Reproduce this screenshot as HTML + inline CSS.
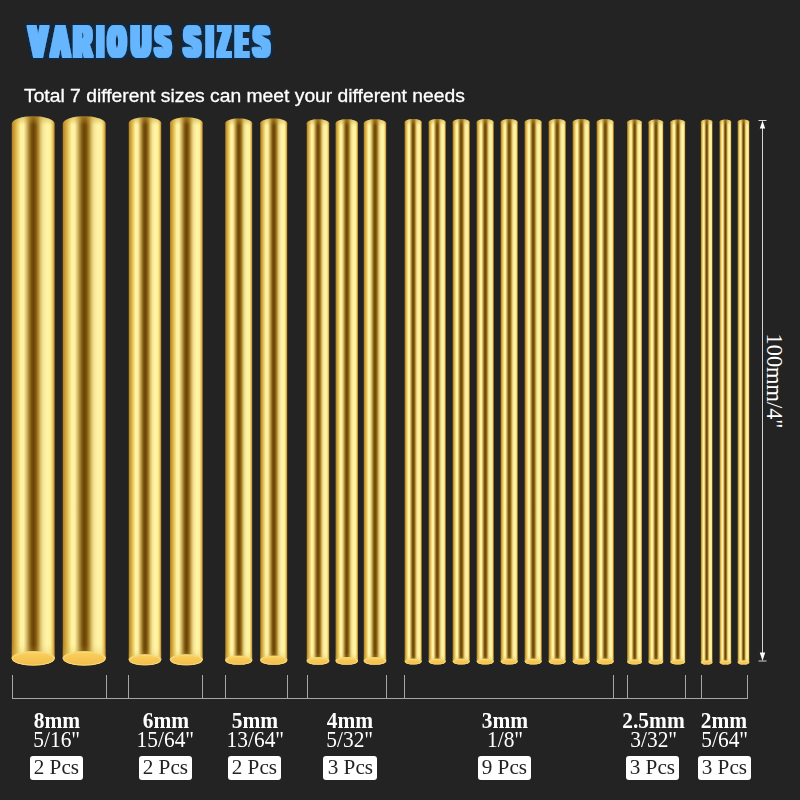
<!DOCTYPE html>
<html><head><meta charset="utf-8"><title>Various Sizes</title>
<style>
html,body{margin:0;padding:0;}
body{width:800px;height:800px;background:#232323;position:relative;overflow:hidden;font-family:"Liberation Sans",sans-serif;}
.sub{-webkit-text-stroke:0.3px #fff;position:absolute;left:23.9px;top:85.9px;font:18px/20px "Liberation Sans",sans-serif;color:#fff;white-space:nowrap;transform-origin:0 50%;transform:scaleX(1.071);}
.lab{position:absolute;width:120px;text-align:center;color:#fff;font-family:"Liberation Serif",serif;white-space:nowrap;}
.lab span{display:inline-block;}
.lab.a{top:708.4px;font-weight:bold;font-size:23px;line-height:26px;height:26px;}
.lab.a span{transform:scaleX(0.932);}
.lab.b{top:727.2px;font-size:22.6px;line-height:26px;height:26px;}
.lab.b span{transform:scaleX(0.947);}
.pcs{position:absolute;top:755.9px;width:53.2px;height:24.4px;background:#fff;border-radius:3px;color:#222;font:20px/23.2px "Liberation Serif",serif;text-align:center;white-space:nowrap;}
.pcs span{display:inline-block;transform:scaleX(1.06);}
.len{position:absolute;left:774.2px;top:381.3px;width:0;height:0;}
.len span{position:absolute;white-space:nowrap;color:#fff;font:22.4px/22px "Liberation Serif",serif;transform:translate(-50%,-50%) rotate(90deg);}
</style></head><body>
<svg width="800" height="800" viewBox="0 0 800 800" style="position:absolute;left:0;top:0">
<defs>
<linearGradient id="g" x1="0" y1="0" x2="1" y2="0">
<stop offset="0" stop-color="#a87a22"/>
<stop offset="0.02" stop-color="#ba8a28"/>
<stop offset="0.065" stop-color="#cfa23a"/>
<stop offset="0.14" stop-color="#ecce66"/>
<stop offset="0.21" stop-color="#fff4a4"/>
<stop offset="0.28" stop-color="#fef2a2"/>
<stop offset="0.34" stop-color="#dcc070"/>
<stop offset="0.40" stop-color="#a98634"/>
<stop offset="0.45" stop-color="#7d5812"/>
<stop offset="0.50" stop-color="#6a4406"/>
<stop offset="0.55" stop-color="#7a520c"/>
<stop offset="0.61" stop-color="#a8822a"/>
<stop offset="0.67" stop-color="#dcc26c"/>
<stop offset="0.73" stop-color="#f7e698"/>
<stop offset="0.82" stop-color="#fff6a6"/>
<stop offset="0.90" stop-color="#fff09a"/>
<stop offset="0.95" stop-color="#eac660"/>
<stop offset="0.985" stop-color="#c4943a"/>
<stop offset="1" stop-color="#a0721e"/>
</linearGradient>
<linearGradient id="v" gradientUnits="userSpaceOnUse" x1="0" y1="116" x2="0" y2="666">
<stop offset="0" stop-color="#c49a32" stop-opacity="0.55"/>
<stop offset="0.03" stop-color="#c89e36" stop-opacity="0.48"/>
<stop offset="0.10" stop-color="#caa23c" stop-opacity="0"/>
<stop offset="0.895" stop-color="#d4b048" stop-opacity="0"/>
<stop offset="0.96" stop-color="#d4b048" stop-opacity="0.5"/>
<stop offset="1" stop-color="#d8b44c" stop-opacity="0.55"/>
</linearGradient>
<linearGradient id="e" x1="0" y1="0" x2="0" y2="1">
<stop offset="0" stop-color="#fdd05c"/>
<stop offset="1" stop-color="#efbc4c"/>
</linearGradient>
</defs>
<path d="M11.75 124.04 A21.50 7.74 0 0 1 54.75 124.04 L54.75 658.61 A21.50 6.99 0 0 1 11.75 658.61 Z" fill="url(#g)"/>
<path d="M62.75 124.04 A21.50 7.74 0 0 1 105.75 124.04 L105.75 658.61 A21.50 6.99 0 0 1 62.75 658.61 Z" fill="url(#g)"/>
<path d="M128.75 123.15 A16.25 5.85 0 0 1 161.25 123.15 L161.25 660.02 A16.25 5.28 0 0 1 128.75 660.02 Z" fill="url(#g)"/>
<path d="M169.95 123.20 A16.40 5.90 0 0 1 202.75 123.20 L202.75 659.97 A16.40 5.33 0 0 1 169.95 659.97 Z" fill="url(#g)"/>
<path d="M225.25 123.36 A13.50 4.86 0 0 1 252.25 123.36 L252.25 660.41 A13.50 4.39 0 0 1 225.25 660.41 Z" fill="url(#g)"/>
<path d="M260.25 123.36 A13.50 4.86 0 0 1 287.25 123.36 L287.25 660.41 A13.50 4.39 0 0 1 260.25 660.41 Z" fill="url(#g)"/>
<path d="M306.75 123.25 A11.25 4.05 0 0 1 329.25 123.25 L329.25 661.14 A11.25 3.66 0 0 1 306.75 661.14 Z" fill="url(#g)"/>
<path d="M335.55 123.23 A11.20 4.03 0 0 1 357.95 123.23 L357.95 661.16 A11.20 3.64 0 0 1 335.55 661.16 Z" fill="url(#g)"/>
<path d="M363.75 123.25 A11.25 4.05 0 0 1 386.25 123.25 L386.25 661.14 A11.25 3.66 0 0 1 363.75 661.14 Z" fill="url(#g)"/>
<path d="M404.65 122.08 A8.55 3.08 0 0 1 421.75 122.08 L421.75 661.72 A8.55 2.78 0 0 1 404.65 661.72 Z" fill="url(#g)"/>
<path d="M428.65 122.08 A8.55 3.08 0 0 1 445.75 122.08 L445.75 661.72 A8.55 2.78 0 0 1 428.65 661.72 Z" fill="url(#g)"/>
<path d="M452.65 122.08 A8.55 3.08 0 0 1 469.75 122.08 L469.75 661.72 A8.55 2.78 0 0 1 452.65 661.72 Z" fill="url(#g)"/>
<path d="M476.65 122.08 A8.55 3.08 0 0 1 493.75 122.08 L493.75 661.72 A8.55 2.78 0 0 1 476.65 661.72 Z" fill="url(#g)"/>
<path d="M500.65 122.08 A8.55 3.08 0 0 1 517.75 122.08 L517.75 661.72 A8.55 2.78 0 0 1 500.65 661.72 Z" fill="url(#g)"/>
<path d="M524.65 122.08 A8.55 3.08 0 0 1 541.75 122.08 L541.75 661.72 A8.55 2.78 0 0 1 524.65 661.72 Z" fill="url(#g)"/>
<path d="M548.65 122.08 A8.55 3.08 0 0 1 565.75 122.08 L565.75 661.72 A8.55 2.78 0 0 1 548.65 661.72 Z" fill="url(#g)"/>
<path d="M572.65 122.08 A8.55 3.08 0 0 1 589.75 122.08 L589.75 661.72 A8.55 2.78 0 0 1 572.65 661.72 Z" fill="url(#g)"/>
<path d="M596.65 122.08 A8.55 3.08 0 0 1 613.75 122.08 L613.75 661.72 A8.55 2.78 0 0 1 596.65 661.72 Z" fill="url(#g)"/>
<path d="M627.15 122.26 A7.40 2.66 0 0 1 641.95 122.26 L641.95 662.10 A7.40 2.40 0 0 1 627.15 662.10 Z" fill="url(#g)"/>
<path d="M648.45 122.26 A7.40 2.66 0 0 1 663.25 122.26 L663.25 662.10 A7.40 2.40 0 0 1 648.45 662.10 Z" fill="url(#g)"/>
<path d="M670.35 122.26 A7.40 2.66 0 0 1 685.15 122.26 L685.15 662.10 A7.40 2.40 0 0 1 670.35 662.10 Z" fill="url(#g)"/>
<path d="M700.85 121.71 A5.85 2.11 0 0 1 712.55 121.71 L712.55 662.60 A5.85 1.90 0 0 1 700.85 662.60 Z" fill="url(#g)"/>
<path d="M719.55 121.71 A5.85 2.11 0 0 1 731.25 121.71 L731.25 662.60 A5.85 1.90 0 0 1 719.55 662.60 Z" fill="url(#g)"/>
<path d="M737.65 121.71 A5.85 2.11 0 0 1 749.35 121.71 L749.35 662.60 A5.85 1.90 0 0 1 737.65 662.60 Z" fill="url(#g)"/>
<linearGradient id="v0" gradientUnits="userSpaceOnUse" x1="0" y1="116.3" x2="0" y2="665.5999999999999"><stop offset="0" stop-color="#c49a32" stop-opacity="0.55"/><stop offset="0.0064" stop-color="#c89e36" stop-opacity="0.35"/><stop offset="0.0160" stop-color="#caa23c" stop-opacity="0"/><stop offset="0.9615" stop-color="#d4b048" stop-opacity="0"/><stop offset="0.9746" stop-color="#d6b24a" stop-opacity="0.2"/><stop offset="1" stop-color="#d8b44c" stop-opacity="0.3"/></linearGradient>
<path d="M11.75 124.04 A21.50 7.74 0 0 1 54.75 124.04 L54.75 658.61 A21.50 6.99 0 0 1 11.75 658.61 Z" fill="url(#v0)"/>
<linearGradient id="v1" gradientUnits="userSpaceOnUse" x1="0" y1="116.3" x2="0" y2="665.5999999999999"><stop offset="0" stop-color="#c49a32" stop-opacity="0.55"/><stop offset="0.0064" stop-color="#c89e36" stop-opacity="0.35"/><stop offset="0.0160" stop-color="#caa23c" stop-opacity="0"/><stop offset="0.9615" stop-color="#d4b048" stop-opacity="0"/><stop offset="0.9746" stop-color="#d6b24a" stop-opacity="0.2"/><stop offset="1" stop-color="#d8b44c" stop-opacity="0.3"/></linearGradient>
<path d="M62.75 124.04 A21.50 7.74 0 0 1 105.75 124.04 L105.75 658.61 A21.50 6.99 0 0 1 62.75 658.61 Z" fill="url(#v1)"/>
<linearGradient id="v2" gradientUnits="userSpaceOnUse" x1="0" y1="117.3" x2="0" y2="665.3"><stop offset="0" stop-color="#c49a32" stop-opacity="0.55"/><stop offset="0.0057" stop-color="#c89e36" stop-opacity="0.35"/><stop offset="0.0141" stop-color="#caa23c" stop-opacity="0"/><stop offset="0.9700" stop-color="#d4b048" stop-opacity="0"/><stop offset="0.9807" stop-color="#d6b24a" stop-opacity="0.2"/><stop offset="1" stop-color="#d8b44c" stop-opacity="0.3"/></linearGradient>
<path d="M128.75 123.15 A16.25 5.85 0 0 1 161.25 123.15 L161.25 660.02 A16.25 5.28 0 0 1 128.75 660.02 Z" fill="url(#v2)"/>
<linearGradient id="v3" gradientUnits="userSpaceOnUse" x1="0" y1="117.3" x2="0" y2="665.3"><stop offset="0" stop-color="#c49a32" stop-opacity="0.55"/><stop offset="0.0057" stop-color="#c89e36" stop-opacity="0.35"/><stop offset="0.0142" stop-color="#caa23c" stop-opacity="0"/><stop offset="0.9697" stop-color="#d4b048" stop-opacity="0"/><stop offset="0.9805" stop-color="#d6b24a" stop-opacity="0.2"/><stop offset="1" stop-color="#d8b44c" stop-opacity="0.3"/></linearGradient>
<path d="M169.95 123.20 A16.40 5.90 0 0 1 202.75 123.20 L202.75 659.97 A16.40 5.33 0 0 1 169.95 659.97 Z" fill="url(#v3)"/>
<linearGradient id="v4" gradientUnits="userSpaceOnUse" x1="0" y1="118.5" x2="0" y2="664.8"><stop offset="0" stop-color="#c49a32" stop-opacity="0.55"/><stop offset="0.0053" stop-color="#c89e36" stop-opacity="0.35"/><stop offset="0.0132" stop-color="#caa23c" stop-opacity="0"/><stop offset="0.9743" stop-color="#d4b048" stop-opacity="0"/><stop offset="0.9839" stop-color="#d6b24a" stop-opacity="0.2"/><stop offset="1" stop-color="#d8b44c" stop-opacity="0.3"/></linearGradient>
<path d="M225.25 123.36 A13.50 4.86 0 0 1 252.25 123.36 L252.25 660.41 A13.50 4.39 0 0 1 225.25 660.41 Z" fill="url(#v4)"/>
<linearGradient id="v5" gradientUnits="userSpaceOnUse" x1="0" y1="118.5" x2="0" y2="664.8"><stop offset="0" stop-color="#c49a32" stop-opacity="0.55"/><stop offset="0.0053" stop-color="#c89e36" stop-opacity="0.35"/><stop offset="0.0132" stop-color="#caa23c" stop-opacity="0"/><stop offset="0.9743" stop-color="#d4b048" stop-opacity="0"/><stop offset="0.9839" stop-color="#d6b24a" stop-opacity="0.2"/><stop offset="1" stop-color="#d8b44c" stop-opacity="0.3"/></linearGradient>
<path d="M260.25 123.36 A13.50 4.86 0 0 1 287.25 123.36 L287.25 660.41 A13.50 4.39 0 0 1 260.25 660.41 Z" fill="url(#v5)"/>
<linearGradient id="v6" gradientUnits="userSpaceOnUse" x1="0" y1="119.2" x2="0" y2="664.8"><stop offset="0" stop-color="#c49a32" stop-opacity="0.55"/><stop offset="0.0049" stop-color="#c89e36" stop-opacity="0.35"/><stop offset="0.0124" stop-color="#caa23c" stop-opacity="0"/><stop offset="0.9780" stop-color="#d4b048" stop-opacity="0"/><stop offset="0.9866" stop-color="#d6b24a" stop-opacity="0.2"/><stop offset="1" stop-color="#d8b44c" stop-opacity="0.3"/></linearGradient>
<path d="M306.75 123.25 A11.25 4.05 0 0 1 329.25 123.25 L329.25 661.14 A11.25 3.66 0 0 1 306.75 661.14 Z" fill="url(#v6)"/>
<linearGradient id="v7" gradientUnits="userSpaceOnUse" x1="0" y1="119.2" x2="0" y2="664.8"><stop offset="0" stop-color="#c49a32" stop-opacity="0.55"/><stop offset="0.0049" stop-color="#c89e36" stop-opacity="0.35"/><stop offset="0.0124" stop-color="#caa23c" stop-opacity="0"/><stop offset="0.9781" stop-color="#d4b048" stop-opacity="0"/><stop offset="0.9867" stop-color="#d6b24a" stop-opacity="0.2"/><stop offset="1" stop-color="#d8b44c" stop-opacity="0.3"/></linearGradient>
<path d="M335.55 123.23 A11.20 4.03 0 0 1 357.95 123.23 L357.95 661.16 A11.20 3.64 0 0 1 335.55 661.16 Z" fill="url(#v7)"/>
<linearGradient id="v8" gradientUnits="userSpaceOnUse" x1="0" y1="119.2" x2="0" y2="664.8"><stop offset="0" stop-color="#c49a32" stop-opacity="0.55"/><stop offset="0.0049" stop-color="#c89e36" stop-opacity="0.35"/><stop offset="0.0124" stop-color="#caa23c" stop-opacity="0"/><stop offset="0.9780" stop-color="#d4b048" stop-opacity="0"/><stop offset="0.9866" stop-color="#d6b24a" stop-opacity="0.2"/><stop offset="1" stop-color="#d8b44c" stop-opacity="0.3"/></linearGradient>
<path d="M363.75 123.25 A11.25 4.05 0 0 1 386.25 123.25 L386.25 661.14 A11.25 3.66 0 0 1 363.75 661.14 Z" fill="url(#v8)"/>
<linearGradient id="v9" gradientUnits="userSpaceOnUse" x1="0" y1="119" x2="0" y2="664.5"><stop offset="0" stop-color="#c49a32" stop-opacity="0.55"/><stop offset="0.0046" stop-color="#c89e36" stop-opacity="0.35"/><stop offset="0.0114" stop-color="#caa23c" stop-opacity="0"/><stop offset="0.9824" stop-color="#d4b048" stop-opacity="0"/><stop offset="0.9898" stop-color="#d6b24a" stop-opacity="0.2"/><stop offset="1" stop-color="#d8b44c" stop-opacity="0.3"/></linearGradient>
<path d="M404.65 122.08 A8.55 3.08 0 0 1 421.75 122.08 L421.75 661.72 A8.55 2.78 0 0 1 404.65 661.72 Z" fill="url(#v9)"/>
<linearGradient id="v10" gradientUnits="userSpaceOnUse" x1="0" y1="119" x2="0" y2="664.5"><stop offset="0" stop-color="#c49a32" stop-opacity="0.55"/><stop offset="0.0046" stop-color="#c89e36" stop-opacity="0.35"/><stop offset="0.0114" stop-color="#caa23c" stop-opacity="0"/><stop offset="0.9824" stop-color="#d4b048" stop-opacity="0"/><stop offset="0.9898" stop-color="#d6b24a" stop-opacity="0.2"/><stop offset="1" stop-color="#d8b44c" stop-opacity="0.3"/></linearGradient>
<path d="M428.65 122.08 A8.55 3.08 0 0 1 445.75 122.08 L445.75 661.72 A8.55 2.78 0 0 1 428.65 661.72 Z" fill="url(#v10)"/>
<linearGradient id="v11" gradientUnits="userSpaceOnUse" x1="0" y1="119" x2="0" y2="664.5"><stop offset="0" stop-color="#c49a32" stop-opacity="0.55"/><stop offset="0.0046" stop-color="#c89e36" stop-opacity="0.35"/><stop offset="0.0114" stop-color="#caa23c" stop-opacity="0"/><stop offset="0.9824" stop-color="#d4b048" stop-opacity="0"/><stop offset="0.9898" stop-color="#d6b24a" stop-opacity="0.2"/><stop offset="1" stop-color="#d8b44c" stop-opacity="0.3"/></linearGradient>
<path d="M452.65 122.08 A8.55 3.08 0 0 1 469.75 122.08 L469.75 661.72 A8.55 2.78 0 0 1 452.65 661.72 Z" fill="url(#v11)"/>
<linearGradient id="v12" gradientUnits="userSpaceOnUse" x1="0" y1="119" x2="0" y2="664.5"><stop offset="0" stop-color="#c49a32" stop-opacity="0.55"/><stop offset="0.0046" stop-color="#c89e36" stop-opacity="0.35"/><stop offset="0.0114" stop-color="#caa23c" stop-opacity="0"/><stop offset="0.9824" stop-color="#d4b048" stop-opacity="0"/><stop offset="0.9898" stop-color="#d6b24a" stop-opacity="0.2"/><stop offset="1" stop-color="#d8b44c" stop-opacity="0.3"/></linearGradient>
<path d="M476.65 122.08 A8.55 3.08 0 0 1 493.75 122.08 L493.75 661.72 A8.55 2.78 0 0 1 476.65 661.72 Z" fill="url(#v12)"/>
<linearGradient id="v13" gradientUnits="userSpaceOnUse" x1="0" y1="119" x2="0" y2="664.5"><stop offset="0" stop-color="#c49a32" stop-opacity="0.55"/><stop offset="0.0046" stop-color="#c89e36" stop-opacity="0.35"/><stop offset="0.0114" stop-color="#caa23c" stop-opacity="0"/><stop offset="0.9824" stop-color="#d4b048" stop-opacity="0"/><stop offset="0.9898" stop-color="#d6b24a" stop-opacity="0.2"/><stop offset="1" stop-color="#d8b44c" stop-opacity="0.3"/></linearGradient>
<path d="M500.65 122.08 A8.55 3.08 0 0 1 517.75 122.08 L517.75 661.72 A8.55 2.78 0 0 1 500.65 661.72 Z" fill="url(#v13)"/>
<linearGradient id="v14" gradientUnits="userSpaceOnUse" x1="0" y1="119" x2="0" y2="664.5"><stop offset="0" stop-color="#c49a32" stop-opacity="0.55"/><stop offset="0.0046" stop-color="#c89e36" stop-opacity="0.35"/><stop offset="0.0114" stop-color="#caa23c" stop-opacity="0"/><stop offset="0.9824" stop-color="#d4b048" stop-opacity="0"/><stop offset="0.9898" stop-color="#d6b24a" stop-opacity="0.2"/><stop offset="1" stop-color="#d8b44c" stop-opacity="0.3"/></linearGradient>
<path d="M524.65 122.08 A8.55 3.08 0 0 1 541.75 122.08 L541.75 661.72 A8.55 2.78 0 0 1 524.65 661.72 Z" fill="url(#v14)"/>
<linearGradient id="v15" gradientUnits="userSpaceOnUse" x1="0" y1="119" x2="0" y2="664.5"><stop offset="0" stop-color="#c49a32" stop-opacity="0.55"/><stop offset="0.0046" stop-color="#c89e36" stop-opacity="0.35"/><stop offset="0.0114" stop-color="#caa23c" stop-opacity="0"/><stop offset="0.9824" stop-color="#d4b048" stop-opacity="0"/><stop offset="0.9898" stop-color="#d6b24a" stop-opacity="0.2"/><stop offset="1" stop-color="#d8b44c" stop-opacity="0.3"/></linearGradient>
<path d="M548.65 122.08 A8.55 3.08 0 0 1 565.75 122.08 L565.75 661.72 A8.55 2.78 0 0 1 548.65 661.72 Z" fill="url(#v15)"/>
<linearGradient id="v16" gradientUnits="userSpaceOnUse" x1="0" y1="119" x2="0" y2="664.5"><stop offset="0" stop-color="#c49a32" stop-opacity="0.55"/><stop offset="0.0046" stop-color="#c89e36" stop-opacity="0.35"/><stop offset="0.0114" stop-color="#caa23c" stop-opacity="0"/><stop offset="0.9824" stop-color="#d4b048" stop-opacity="0"/><stop offset="0.9898" stop-color="#d6b24a" stop-opacity="0.2"/><stop offset="1" stop-color="#d8b44c" stop-opacity="0.3"/></linearGradient>
<path d="M572.65 122.08 A8.55 3.08 0 0 1 589.75 122.08 L589.75 661.72 A8.55 2.78 0 0 1 572.65 661.72 Z" fill="url(#v16)"/>
<linearGradient id="v17" gradientUnits="userSpaceOnUse" x1="0" y1="119" x2="0" y2="664.5"><stop offset="0" stop-color="#c49a32" stop-opacity="0.55"/><stop offset="0.0046" stop-color="#c89e36" stop-opacity="0.35"/><stop offset="0.0114" stop-color="#caa23c" stop-opacity="0"/><stop offset="0.9824" stop-color="#d4b048" stop-opacity="0"/><stop offset="0.9898" stop-color="#d6b24a" stop-opacity="0.2"/><stop offset="1" stop-color="#d8b44c" stop-opacity="0.3"/></linearGradient>
<path d="M596.65 122.08 A8.55 3.08 0 0 1 613.75 122.08 L613.75 661.72 A8.55 2.78 0 0 1 596.65 661.72 Z" fill="url(#v17)"/>
<linearGradient id="v18" gradientUnits="userSpaceOnUse" x1="0" y1="119.6" x2="0" y2="664.5"><stop offset="0" stop-color="#c49a32" stop-opacity="0.55"/><stop offset="0.0044" stop-color="#c89e36" stop-opacity="0.35"/><stop offset="0.0110" stop-color="#caa23c" stop-opacity="0"/><stop offset="0.9842" stop-color="#d4b048" stop-opacity="0"/><stop offset="0.9912" stop-color="#d6b24a" stop-opacity="0.2"/><stop offset="1" stop-color="#d8b44c" stop-opacity="0.3"/></linearGradient>
<path d="M627.15 122.26 A7.40 2.66 0 0 1 641.95 122.26 L641.95 662.10 A7.40 2.40 0 0 1 627.15 662.10 Z" fill="url(#v18)"/>
<linearGradient id="v19" gradientUnits="userSpaceOnUse" x1="0" y1="119.6" x2="0" y2="664.5"><stop offset="0" stop-color="#c49a32" stop-opacity="0.55"/><stop offset="0.0044" stop-color="#c89e36" stop-opacity="0.35"/><stop offset="0.0110" stop-color="#caa23c" stop-opacity="0"/><stop offset="0.9842" stop-color="#d4b048" stop-opacity="0"/><stop offset="0.9912" stop-color="#d6b24a" stop-opacity="0.2"/><stop offset="1" stop-color="#d8b44c" stop-opacity="0.3"/></linearGradient>
<path d="M648.45 122.26 A7.40 2.66 0 0 1 663.25 122.26 L663.25 662.10 A7.40 2.40 0 0 1 648.45 662.10 Z" fill="url(#v19)"/>
<linearGradient id="v20" gradientUnits="userSpaceOnUse" x1="0" y1="119.6" x2="0" y2="664.5"><stop offset="0" stop-color="#c49a32" stop-opacity="0.55"/><stop offset="0.0044" stop-color="#c89e36" stop-opacity="0.35"/><stop offset="0.0110" stop-color="#caa23c" stop-opacity="0"/><stop offset="0.9842" stop-color="#d4b048" stop-opacity="0"/><stop offset="0.9912" stop-color="#d6b24a" stop-opacity="0.2"/><stop offset="1" stop-color="#d8b44c" stop-opacity="0.3"/></linearGradient>
<path d="M670.35 122.26 A7.40 2.66 0 0 1 685.15 122.26 L685.15 662.10 A7.40 2.40 0 0 1 670.35 662.10 Z" fill="url(#v20)"/>
<linearGradient id="v21" gradientUnits="userSpaceOnUse" x1="0" y1="119.6" x2="0" y2="664.5"><stop offset="0" stop-color="#c49a32" stop-opacity="0.55"/><stop offset="0.0042" stop-color="#c89e36" stop-opacity="0.35"/><stop offset="0.0104" stop-color="#caa23c" stop-opacity="0"/><stop offset="0.9868" stop-color="#d4b048" stop-opacity="0"/><stop offset="0.9930" stop-color="#d6b24a" stop-opacity="0.2"/><stop offset="1" stop-color="#d8b44c" stop-opacity="0.3"/></linearGradient>
<path d="M700.85 121.71 A5.85 2.11 0 0 1 712.55 121.71 L712.55 662.60 A5.85 1.90 0 0 1 700.85 662.60 Z" fill="url(#v21)"/>
<linearGradient id="v22" gradientUnits="userSpaceOnUse" x1="0" y1="119.6" x2="0" y2="664.5"><stop offset="0" stop-color="#c49a32" stop-opacity="0.55"/><stop offset="0.0042" stop-color="#c89e36" stop-opacity="0.35"/><stop offset="0.0104" stop-color="#caa23c" stop-opacity="0"/><stop offset="0.9868" stop-color="#d4b048" stop-opacity="0"/><stop offset="0.9930" stop-color="#d6b24a" stop-opacity="0.2"/><stop offset="1" stop-color="#d8b44c" stop-opacity="0.3"/></linearGradient>
<path d="M719.55 121.71 A5.85 2.11 0 0 1 731.25 121.71 L731.25 662.60 A5.85 1.90 0 0 1 719.55 662.60 Z" fill="url(#v22)"/>
<linearGradient id="v23" gradientUnits="userSpaceOnUse" x1="0" y1="119.6" x2="0" y2="664.5"><stop offset="0" stop-color="#c49a32" stop-opacity="0.55"/><stop offset="0.0042" stop-color="#c89e36" stop-opacity="0.35"/><stop offset="0.0104" stop-color="#caa23c" stop-opacity="0"/><stop offset="0.9868" stop-color="#d4b048" stop-opacity="0"/><stop offset="0.9930" stop-color="#d6b24a" stop-opacity="0.2"/><stop offset="1" stop-color="#d8b44c" stop-opacity="0.3"/></linearGradient>
<path d="M737.65 121.71 A5.85 2.11 0 0 1 749.35 121.71 L749.35 662.60 A5.85 1.90 0 0 1 737.65 662.60 Z" fill="url(#v23)"/>
<ellipse cx="33.25" cy="658.61" rx="21.20" ry="6.99" fill="url(#e)"/>
<ellipse cx="33.25" cy="658.61" rx="20.80" ry="6.59" fill="none" stroke="#fee692" stroke-opacity="0.75" stroke-width="0.90"/>
<path d="M12.05 658.61 A21.20 6.99 0 0 1 54.45 658.61" fill="none" stroke="#f2d878" stroke-opacity="0.85" stroke-width="1.40"/>
<ellipse cx="84.25" cy="658.61" rx="21.20" ry="6.99" fill="url(#e)"/>
<ellipse cx="84.25" cy="658.61" rx="20.80" ry="6.59" fill="none" stroke="#fee692" stroke-opacity="0.75" stroke-width="0.90"/>
<path d="M63.05 658.61 A21.20 6.99 0 0 1 105.45 658.61" fill="none" stroke="#f2d878" stroke-opacity="0.85" stroke-width="1.40"/>
<ellipse cx="145.00" cy="660.02" rx="15.95" ry="5.28" fill="url(#e)"/>
<ellipse cx="145.00" cy="660.02" rx="15.55" ry="4.88" fill="none" stroke="#fee692" stroke-opacity="0.75" stroke-width="0.79"/>
<path d="M129.05 660.02 A15.95 5.28 0 0 1 160.95 660.02" fill="none" stroke="#f2d878" stroke-opacity="0.85" stroke-width="1.25"/>
<ellipse cx="186.35" cy="659.97" rx="16.10" ry="5.33" fill="url(#e)"/>
<ellipse cx="186.35" cy="659.97" rx="15.70" ry="4.93" fill="none" stroke="#fee692" stroke-opacity="0.75" stroke-width="0.79"/>
<path d="M170.25 659.97 A16.10 5.33 0 0 1 202.45 659.97" fill="none" stroke="#f2d878" stroke-opacity="0.85" stroke-width="1.26"/>
<ellipse cx="238.75" cy="660.41" rx="13.20" ry="4.39" fill="url(#e)"/>
<ellipse cx="238.75" cy="660.41" rx="12.80" ry="3.99" fill="none" stroke="#fee692" stroke-opacity="0.75" stroke-width="0.72"/>
<path d="M225.55 660.41 A13.20 4.39 0 0 1 251.95 660.41" fill="none" stroke="#f2d878" stroke-opacity="0.85" stroke-width="1.14"/>
<ellipse cx="273.75" cy="660.41" rx="13.20" ry="4.39" fill="url(#e)"/>
<ellipse cx="273.75" cy="660.41" rx="12.80" ry="3.99" fill="none" stroke="#fee692" stroke-opacity="0.75" stroke-width="0.72"/>
<path d="M260.55 660.41 A13.20 4.39 0 0 1 286.95 660.41" fill="none" stroke="#f2d878" stroke-opacity="0.85" stroke-width="1.14"/>
<ellipse cx="318.00" cy="661.14" rx="10.95" ry="3.66" fill="url(#e)"/>
<ellipse cx="318.00" cy="661.14" rx="10.55" ry="3.26" fill="none" stroke="#fee692" stroke-opacity="0.75" stroke-width="0.67"/>
<path d="M307.05 661.14 A10.95 3.66 0 0 1 328.95 661.14" fill="none" stroke="#f2d878" stroke-opacity="0.85" stroke-width="1.05"/>
<ellipse cx="346.75" cy="661.16" rx="10.90" ry="3.64" fill="url(#e)"/>
<ellipse cx="346.75" cy="661.16" rx="10.50" ry="3.24" fill="none" stroke="#fee692" stroke-opacity="0.75" stroke-width="0.67"/>
<path d="M335.85 661.16 A10.90 3.64 0 0 1 357.65 661.16" fill="none" stroke="#f2d878" stroke-opacity="0.85" stroke-width="1.05"/>
<ellipse cx="375.00" cy="661.14" rx="10.95" ry="3.66" fill="url(#e)"/>
<ellipse cx="375.00" cy="661.14" rx="10.55" ry="3.26" fill="none" stroke="#fee692" stroke-opacity="0.75" stroke-width="0.67"/>
<path d="M364.05 661.14 A10.95 3.66 0 0 1 385.95 661.14" fill="none" stroke="#f2d878" stroke-opacity="0.85" stroke-width="1.05"/>
<ellipse cx="413.20" cy="661.72" rx="8.25" ry="2.78" fill="url(#e)"/>
<ellipse cx="413.20" cy="661.72" rx="7.85" ry="2.38" fill="none" stroke="#fee692" stroke-opacity="0.75" stroke-width="0.61"/>
<path d="M404.95 661.72 A8.25 2.78 0 0 1 421.45 661.72" fill="none" stroke="#f2d878" stroke-opacity="0.85" stroke-width="0.94"/>
<ellipse cx="437.20" cy="661.72" rx="8.25" ry="2.78" fill="url(#e)"/>
<ellipse cx="437.20" cy="661.72" rx="7.85" ry="2.38" fill="none" stroke="#fee692" stroke-opacity="0.75" stroke-width="0.61"/>
<path d="M428.95 661.72 A8.25 2.78 0 0 1 445.45 661.72" fill="none" stroke="#f2d878" stroke-opacity="0.85" stroke-width="0.94"/>
<ellipse cx="461.20" cy="661.72" rx="8.25" ry="2.78" fill="url(#e)"/>
<ellipse cx="461.20" cy="661.72" rx="7.85" ry="2.38" fill="none" stroke="#fee692" stroke-opacity="0.75" stroke-width="0.61"/>
<path d="M452.95 661.72 A8.25 2.78 0 0 1 469.45 661.72" fill="none" stroke="#f2d878" stroke-opacity="0.85" stroke-width="0.94"/>
<ellipse cx="485.20" cy="661.72" rx="8.25" ry="2.78" fill="url(#e)"/>
<ellipse cx="485.20" cy="661.72" rx="7.85" ry="2.38" fill="none" stroke="#fee692" stroke-opacity="0.75" stroke-width="0.61"/>
<path d="M476.95 661.72 A8.25 2.78 0 0 1 493.45 661.72" fill="none" stroke="#f2d878" stroke-opacity="0.85" stroke-width="0.94"/>
<ellipse cx="509.20" cy="661.72" rx="8.25" ry="2.78" fill="url(#e)"/>
<ellipse cx="509.20" cy="661.72" rx="7.85" ry="2.38" fill="none" stroke="#fee692" stroke-opacity="0.75" stroke-width="0.61"/>
<path d="M500.95 661.72 A8.25 2.78 0 0 1 517.45 661.72" fill="none" stroke="#f2d878" stroke-opacity="0.85" stroke-width="0.94"/>
<ellipse cx="533.20" cy="661.72" rx="8.25" ry="2.78" fill="url(#e)"/>
<ellipse cx="533.20" cy="661.72" rx="7.85" ry="2.38" fill="none" stroke="#fee692" stroke-opacity="0.75" stroke-width="0.61"/>
<path d="M524.95 661.72 A8.25 2.78 0 0 1 541.45 661.72" fill="none" stroke="#f2d878" stroke-opacity="0.85" stroke-width="0.94"/>
<ellipse cx="557.20" cy="661.72" rx="8.25" ry="2.78" fill="url(#e)"/>
<ellipse cx="557.20" cy="661.72" rx="7.85" ry="2.38" fill="none" stroke="#fee692" stroke-opacity="0.75" stroke-width="0.61"/>
<path d="M548.95 661.72 A8.25 2.78 0 0 1 565.45 661.72" fill="none" stroke="#f2d878" stroke-opacity="0.85" stroke-width="0.94"/>
<ellipse cx="581.20" cy="661.72" rx="8.25" ry="2.78" fill="url(#e)"/>
<ellipse cx="581.20" cy="661.72" rx="7.85" ry="2.38" fill="none" stroke="#fee692" stroke-opacity="0.75" stroke-width="0.61"/>
<path d="M572.95 661.72 A8.25 2.78 0 0 1 589.45 661.72" fill="none" stroke="#f2d878" stroke-opacity="0.85" stroke-width="0.94"/>
<ellipse cx="605.20" cy="661.72" rx="8.25" ry="2.78" fill="url(#e)"/>
<ellipse cx="605.20" cy="661.72" rx="7.85" ry="2.38" fill="none" stroke="#fee692" stroke-opacity="0.75" stroke-width="0.61"/>
<path d="M596.95 661.72 A8.25 2.78 0 0 1 613.45 661.72" fill="none" stroke="#f2d878" stroke-opacity="0.85" stroke-width="0.94"/>
<ellipse cx="634.55" cy="662.10" rx="7.10" ry="2.40" fill="url(#e)"/>
<ellipse cx="634.55" cy="662.10" rx="6.70" ry="2.00" fill="none" stroke="#fee692" stroke-opacity="0.75" stroke-width="0.58"/>
<path d="M627.45 662.10 A7.10 2.40 0 0 1 641.65 662.10" fill="none" stroke="#f2d878" stroke-opacity="0.85" stroke-width="0.90"/>
<ellipse cx="655.85" cy="662.10" rx="7.10" ry="2.40" fill="url(#e)"/>
<ellipse cx="655.85" cy="662.10" rx="6.70" ry="2.00" fill="none" stroke="#fee692" stroke-opacity="0.75" stroke-width="0.58"/>
<path d="M648.75 662.10 A7.10 2.40 0 0 1 662.95 662.10" fill="none" stroke="#f2d878" stroke-opacity="0.85" stroke-width="0.90"/>
<ellipse cx="677.75" cy="662.10" rx="7.10" ry="2.40" fill="url(#e)"/>
<ellipse cx="677.75" cy="662.10" rx="6.70" ry="2.00" fill="none" stroke="#fee692" stroke-opacity="0.75" stroke-width="0.58"/>
<path d="M670.65 662.10 A7.10 2.40 0 0 1 684.85 662.10" fill="none" stroke="#f2d878" stroke-opacity="0.85" stroke-width="0.90"/>
<ellipse cx="706.70" cy="662.60" rx="5.55" ry="1.90" fill="url(#e)"/>
<ellipse cx="706.70" cy="662.60" rx="5.15" ry="1.50" fill="none" stroke="#fee692" stroke-opacity="0.75" stroke-width="0.54"/>
<path d="M701.15 662.60 A5.55 1.90 0 0 1 712.25 662.60" fill="none" stroke="#f2d878" stroke-opacity="0.85" stroke-width="0.83"/>
<ellipse cx="725.40" cy="662.60" rx="5.55" ry="1.90" fill="url(#e)"/>
<ellipse cx="725.40" cy="662.60" rx="5.15" ry="1.50" fill="none" stroke="#fee692" stroke-opacity="0.75" stroke-width="0.54"/>
<path d="M719.85 662.60 A5.55 1.90 0 0 1 730.95 662.60" fill="none" stroke="#f2d878" stroke-opacity="0.85" stroke-width="0.83"/>
<ellipse cx="743.50" cy="662.60" rx="5.55" ry="1.90" fill="url(#e)"/>
<ellipse cx="743.50" cy="662.60" rx="5.15" ry="1.50" fill="none" stroke="#fee692" stroke-opacity="0.75" stroke-width="0.54"/>
<path d="M737.95 662.60 A5.55 1.90 0 0 1 749.05 662.60" fill="none" stroke="#f2d878" stroke-opacity="0.85" stroke-width="0.83"/>
<g stroke="#a6a6a6" stroke-width="1" fill="none" shape-rendering="crispEdges">
<path d="M12 698.5 H748"/>
<path d="M12.5 675 V699"/>
<path d="M106.5 675 V699"/>
<path d="M128.5 675 V699"/>
<path d="M202.5 675 V699"/>
<path d="M225.5 675 V699"/>
<path d="M287.5 675 V699"/>
<path d="M307.5 675 V699"/>
<path d="M386.5 675 V699"/>
<path d="M404.5 675 V699"/>
<path d="M613.5 675 V699"/>
<path d="M627.5 675 V699"/>
<path d="M685.5 675 V699"/>
<path d="M701.5 675 V699"/>
<path d="M747.5 675 V699"/>
</g>
<g stroke="#d4d4d4" stroke-width="1" fill="#fff">
<path d="M762.5 127 V653" fill="none"/>
<path d="M758.5 120.5 H766.5" fill="none"/>
<path d="M758.5 661 H766.5" fill="none"/>
<path d="M762.5 120.6 L765.2 128.6 H759.8 Z" stroke="none"/>
<path d="M762.5 660.9 L765.2 652.6 H759.8 Z" stroke="none"/>
</g>
</svg>
<svg width="800" height="80" viewBox="0 0 800 80" style="position:absolute;left:0;top:0"><defs><filter id="fat" x="-5%" y="-20%" width="110%" height="140%"><feMorphology in="SourceGraphic" operator="dilate" radius="3 1" result="fat"/><feMorphology in="fat" operator="dilate" radius="2" result="o"/><feFlood flood-color="#0a2a48" flood-opacity="0.85"/><feComposite in2="o" operator="in" result="oc"/><feMerge><feMergeNode in="oc"/><feMergeNode in="fat"/></feMerge></filter></defs><text y="56.6" font-family="Liberation Sans, sans-serif" font-weight="bold" font-size="44.2" fill="#66b5ff" filter="url(#fat)"><tspan x="29.43" textLength="17.15" lengthAdjust="spacingAndGlyphs">V</tspan><tspan x="51.38" textLength="17.87" lengthAdjust="spacingAndGlyphs">A</tspan><tspan x="74.22" textLength="17.01" lengthAdjust="spacingAndGlyphs">R</tspan><tspan x="97.69" textLength="5.02" lengthAdjust="spacingAndGlyphs">I</tspan><tspan x="108.73" textLength="16.46" lengthAdjust="spacingAndGlyphs">O</tspan><tspan x="131.77" textLength="18.39" lengthAdjust="spacingAndGlyphs">U</tspan><tspan x="155.78" textLength="14.25" lengthAdjust="spacingAndGlyphs">S</tspan><tspan x="175"> </tspan><tspan x="184.54" textLength="15.25" lengthAdjust="spacingAndGlyphs">S</tspan><tspan x="207.00" textLength="5.40" lengthAdjust="spacingAndGlyphs">I</tspan><tspan x="218.73" textLength="10.67" lengthAdjust="spacingAndGlyphs">Z</tspan><tspan x="236.29" textLength="11.06" lengthAdjust="spacingAndGlyphs">E</tspan><tspan x="253.96" textLength="14.81" lengthAdjust="spacingAndGlyphs">S</tspan></text></svg>
<div class="sub">Total 7 different sizes can meet your different needs</div>
<div class="lab a" style="left:-3.1px"><span>8mm</span></div>
<div class="lab b" style="left:-3.1px"><span>5/16"</span></div>
<div class="pcs" style="left:29.9px"><span>2 Pcs</span></div>
<div class="lab a" style="left:105.7px"><span>6mm</span></div>
<div class="lab b" style="left:105.7px"><span>15/64"</span></div>
<div class="pcs" style="left:139.2px"><span>2 Pcs</span></div>
<div class="lab a" style="left:195.0px"><span>5mm</span></div>
<div class="lab b" style="left:195.0px"><span>13/64"</span></div>
<div class="pcs" style="left:228.2px"><span>2 Pcs</span></div>
<div class="lab a" style="left:289.7px"><span>4mm</span></div>
<div class="lab b" style="left:289.7px"><span>5/32"</span></div>
<div class="pcs" style="left:323.4px"><span>3 Pcs</span></div>
<div class="lab a" style="left:444.8px"><span>3mm</span></div>
<div class="lab b" style="left:444.8px"><span>1/8"</span></div>
<div class="pcs" style="left:478.0px"><span>9 Pcs</span></div>
<div class="lab a" style="left:593.5px"><span>2.5mm</span></div>
<div class="lab b" style="left:593.5px"><span>3/32"</span></div>
<div class="pcs" style="left:626.3px"><span>3 Pcs</span></div>
<div class="lab a" style="left:664.3px"><span>2mm</span></div>
<div class="lab b" style="left:664.3px"><span>5/64"</span></div>
<div class="pcs" style="left:697.5px"><span>3 Pcs</span></div>
<div class="len"><span>100mm/4"</span></div>
</body></html>
